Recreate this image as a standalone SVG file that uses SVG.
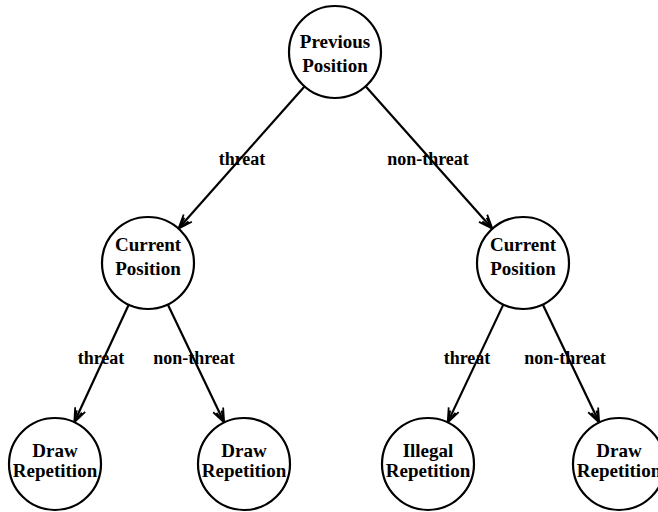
<svg xmlns="http://www.w3.org/2000/svg" width="658" height="512" viewBox="0 0 658 512">
<style>
.node circle{fill:#fff;stroke:#000;stroke-width:2.2}
.node text,.lbl{font-family:"Liberation Serif","Times New Roman",serif;font-weight:bold;font-size:19px;fill:#000;text-anchor:middle}
.lbl{font-size:18px}
.edge{stroke:#000;stroke-width:2.2;fill:none;marker-end:url(#arr)}
</style>
<defs>
<marker id="arr" markerUnits="userSpaceOnUse" markerWidth="20" markerHeight="16" viewBox="-16 -8 18 16" refX="0" refY="0" orient="auto">
<path d="M-14,-5.5 L0,0 L-14,5.5 M-12,-2.8 L0,0 L-12,2.8" stroke="#000" stroke-width="1.8" fill="none"/>
</marker>
</defs>
<rect width="658" height="512" fill="#fff"/>
<g id="connectors">
<line class="edge" x1="304.5" y1="86.4" x2="178.5" y2="228.6"/>
<line class="edge" x1="365.6" y1="86.3" x2="492.4" y2="228.7"/>
<line class="edge" x1="128.7" y1="304.7" x2="74.3" y2="422.3"/>
<line class="edge" x1="167.8" y1="304.5" x2="224.2" y2="422.5"/>
<line class="edge" x1="503.3" y1="304.6" x2="447.7" y2="422.4"/>
<line class="edge" x1="542.8" y1="304.5" x2="599.2" y2="422.5"/>
<text class="lbl" x="242" y="165">threat</text>
<text class="lbl" x="428" y="165">non-threat</text>
<text class="lbl" x="101" y="364">threat</text>
<text class="lbl" x="194" y="364">non-threat</text>
<text class="lbl" x="467" y="364">threat</text>
<text class="lbl" x="565" y="364">non-threat</text>
</g>
<g id="n-root" class="node"><circle cx="335" cy="52" r="46"/><text x="335" y="48">Previous</text><text x="335" y="72">Position</text></g>
<g id="n-left" class="node"><circle cx="148" cy="263" r="46"/><text x="148" y="251">Current</text><text x="148" y="275">Position</text></g>
<g id="n-right" class="node"><circle cx="523" cy="263" r="46"/><text x="523" y="251">Current</text><text x="523" y="275">Position</text></g>
<g id="n-ll" class="node"><circle cx="55" cy="464" r="46"/><text x="55" y="457">Draw</text><text x="55" y="477">Repetition</text></g>
<g id="n-lr" class="node"><circle cx="244" cy="464" r="46"/><text x="244" y="457">Draw</text><text x="244" y="477">Repetition</text></g>
<g id="n-rl" class="node"><circle cx="428" cy="464" r="46"/><text x="428" y="457">Illegal</text><text x="428" y="477">Repetition</text></g>
<g id="n-rr" class="node"><circle cx="619" cy="464" r="46"/><text x="619" y="457">Draw</text><text x="619" y="477">Repetition</text></g>
</svg>
